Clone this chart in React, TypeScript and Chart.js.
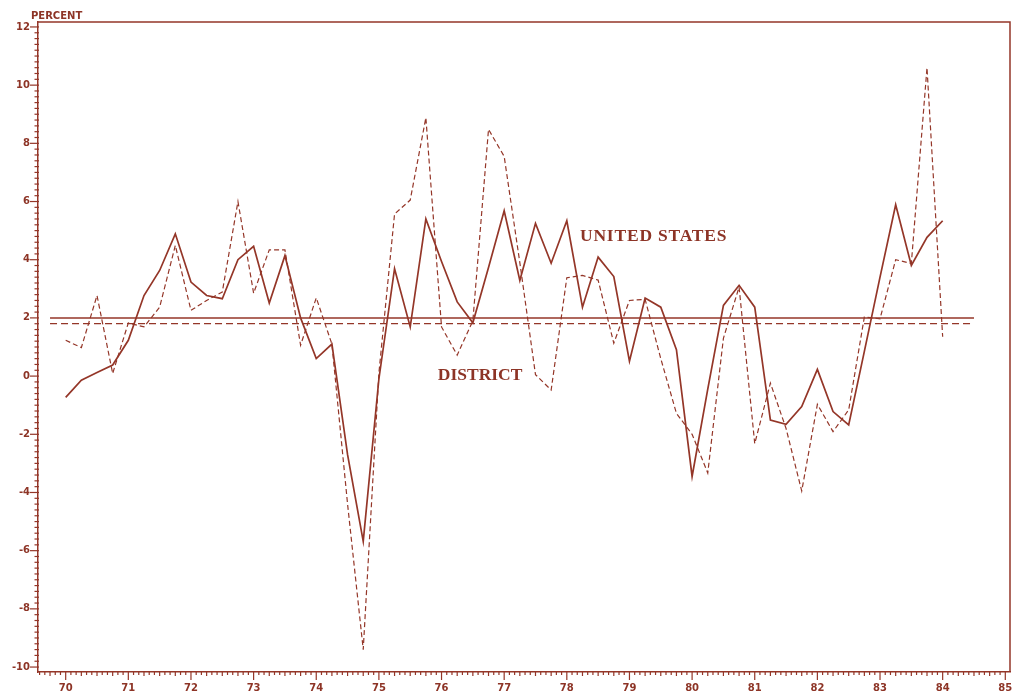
import React, { useEffect, useRef } from "react";
import { Chart, registerables } from "chart.js";

Chart.register(...registerables);

// Quarterly observations, 1970 Q1 – 1984 Q1
const quarters = [
  "1970Q1", "1970Q2", "1970Q3", "1970Q4",
  "1971Q1", "1971Q2", "1971Q3", "1971Q4",
  "1972Q1", "1972Q2", "1972Q3", "1972Q4",
  "1973Q1", "1973Q2", "1973Q3", "1973Q4",
  "1974Q1", "1974Q2", "1974Q3", "1974Q4",
  "1975Q1", "1975Q2", "1975Q3", "1975Q4",
  "1976Q1", "1976Q2", "1976Q3", "1976Q4",
  "1977Q1", "1977Q2", "1977Q3", "1977Q4",
  "1978Q1", "1978Q2", "1978Q3", "1978Q4",
  "1979Q1", "1979Q2", "1979Q3", "1979Q4",
  "1980Q1", "1980Q2", "1980Q3", "1980Q4",
  "1981Q1", "1981Q2", "1981Q3", "1981Q4",
  "1982Q1", "1982Q2", "1982Q3", "1982Q4",
  "1983Q1", "1983Q2", "1983Q3", "1983Q4",
  "1984Q1",
];

// UNITED STATES (solid line), percent
const unitedStates = [
  -0.73, -0.14, 0.12, 0.38,
  1.23, 2.77, 3.63, 4.89,
  3.23, 2.77, 2.66, 4.0,
  4.46, 2.51, 4.14, 2.0,
  0.6, 1.1, -2.7, -5.68,
  -0.1, 3.69, 1.69, 5.4,
  3.94, 2.55, 1.83, 3.73,
  5.68, 3.29, 5.25, 3.88,
  5.34, 2.37, 4.09, 3.42,
  0.51, 2.68, 2.37, 0.91,
  -3.45, -0.45, 2.43, 3.12,
  2.37, -1.51, -1.66, -1.05,
  0.23, -1.22, -1.68, 0.85,
  3.4, 5.89, 3.8, 4.77,
  5.34,
];

// DISTRICT (dashed line), percent
const district = [
  1.23, 0.98, 2.77, 0.09,
  1.83, 1.69, 2.37, 4.49,
  2.26, 2.6, 2.89, 6.0,
  2.85, 4.34, 4.34, 1.06,
  2.69, 1.1, -4.4, -9.4,
  0.1, 5.57, 6.05, 8.88,
  1.69, 0.72, 1.9, 8.48,
  7.55, 3.9, 0.05, -0.48,
  3.38, 3.46, 3.3, 1.13,
  2.6, 2.64, 0.6, -1.28,
  -2.0, -3.33, 1.3, 3.06,
  -2.32, -0.24, -1.8, -3.95,
  -0.97, -1.91, -1.16, 2.03,
  1.97, 4.0, 3.87, 10.6,
  1.35,
];

// Period averages drawn as horizontal reference lines
const unitedStatesAverage = 2.0;
const districtAverage = 1.8;
const averageSpan = [69.75, 84.5];

const xTickYears = [70, 71, 72, 73, 74, 75, 76, 77, 78, 79, 80, 81, 82, 83, 84, 85];
const yTickValues = [-10, -8, -6, -4, -2, 0, 2, 4, 6, 8, 10, 12];

const seriesLabels = { us: "UNITED STATES", district: "DISTRICT" };
const yAxisTitle = "PERCENT";

const INK = "#943628";
const TEXT_INK = "#8d3426";

function quarterToX(q: string): number {
  const year = parseInt(q.slice(0, 4), 10) - 1900;
  const qn = parseInt(q.slice(5), 10);
  return year + (qn - 1) / 4;
}

const framePlugin = {
  id: "frameAndTicks",
  beforeDatasetsDraw(chart: any) {
    const { ctx, chartArea, scales } = chart;
    const xs = scales.x;
    const ys = scales.y;
    ctx.save();
    ctx.strokeStyle = INK;
    // top and right frame
    ctx.lineWidth = 1.5;
    ctx.beginPath();
    ctx.moveTo(chartArea.left, chartArea.top);
    ctx.lineTo(chartArea.right, chartArea.top);
    ctx.lineTo(chartArea.right, chartArea.bottom);
    ctx.stroke();
    // y minor/major ticks every 0.2
    ctx.lineWidth = 1.2;
    for (let k = -50; k <= 60; k++) {
      const v = k / 5;
      const py = ys.getPixelForValue(v);
      const len = k % 10 === 0 ? 8 : 3.5;
      ctx.beginPath();
      ctx.moveTo(chartArea.left - len, py);
      ctx.lineTo(chartArea.left + 1, py);
      ctx.stroke();
    }
    // x ticks monthly
    const mStart = Math.ceil(xs.min * 12);
    const mEnd = Math.floor(xs.max * 12);
    for (let m = mStart; m <= mEnd; m++) {
      const px = xs.getPixelForValue(m / 12);
      const len = m % 12 === 0 ? 8 : m % 3 === 0 ? 4 : 3;
      ctx.beginPath();
      ctx.moveTo(px, chartArea.bottom - 1);
      ctx.lineTo(px, chartArea.bottom + len);
      ctx.stroke();
    }
    // axis title
    ctx.fillStyle = TEXT_INK;
    ctx.font = "bold 10px 'DejaVu Sans'";
    ctx.textAlign = "left";
    ctx.textBaseline = "alphabetic";
    ctx.fillText(yAxisTitle, chartArea.left - 7, chartArea.top - 3);
    ctx.restore();
  },
  afterDatasetsDraw(chart: any) {
    const { ctx, scales } = chart;
    const xs = scales.x;
    const ys = scales.y;
    ctx.save();
    ctx.fillStyle = TEXT_INK;
    ctx.font = "bold 17.5px 'Liberation Serif'";
    ctx.textAlign = "left";
    ctx.textBaseline = "middle";
    (ctx as any).letterSpacing = "0.8px";
    ctx.fillText(seriesLabels.us, xs.getPixelForValue(78.21), ys.getPixelForValue(4.79));
    (ctx as any).letterSpacing = "0px";
    ctx.fillText(seriesLabels.district, xs.getPixelForValue(75.94), ys.getPixelForValue(0.03));
    ctx.restore();
  },
};

export default function App() {
  const canvasRef = useRef<HTMLCanvasElement | null>(null);

  useEffect(() => {
    const canvas = canvasRef.current;
    if (!canvas) return;
    const usPoints = quarters.map((q, i) => ({ x: quarterToX(q), y: unitedStates[i] }));
    const distPoints = quarters.map((q, i) => ({ x: quarterToX(q), y: district[i] }));

    const chart = new Chart(canvas, {
      type: "line",
      data: {
        datasets: [
          {
            label: seriesLabels.us,
            data: usPoints,
            borderColor: INK,
            borderWidth: 1.7,
            pointRadius: 0,
            tension: 0,
          },
          {
            label: seriesLabels.district,
            data: distPoints,
            borderColor: INK,
            borderWidth: 1.2,
            borderDash: [5, 3],
            pointRadius: 0,
            tension: 0,
          },
          {
            label: "US average",
            data: averageSpan.map((x) => ({ x, y: unitedStatesAverage })),
            borderColor: INK,
            borderWidth: 1.5,
            pointRadius: 0,
          },
          {
            label: "District average",
            data: averageSpan.map((x) => ({ x, y: districtAverage })),
            borderColor: INK,
            borderWidth: 1.3,
            borderDash: [7, 4],
            pointRadius: 0,
          },
        ],
      },
      options: {
        animation: false,
        responsive: false,
        layout: { padding: { top: 22, right: 2, left: 0, bottom: 0 } },
        plugins: { legend: { display: false }, tooltip: { enabled: false } },
        scales: {
          x: {
            type: "linear",
            min: 69.558,
            max: 85.075,
            afterBuildTicks: (scale: any) => {
              scale.ticks = xTickYears.map((v) => ({ value: v }));
            },
            afterFit: (scale: any) => {
              scale.height = 22;
              scale.paddingLeft = 0;
              scale.paddingRight = 0;
            },
            ticks: {
              autoSkip: false,
              maxRotation: 0,
              padding: 2,
              color: TEXT_INK,
              font: { family: "'DejaVu Sans'", size: 10, weight: "bold" },
              callback: (v: any) => String(v),
            },
            grid: { display: false, tickLength: 8 },
            border: { display: true, color: INK, width: 1.5 },
          },
          y: {
            type: "linear",
            min: -10.17,
            max: 12.17,
            afterBuildTicks: (scale: any) => {
              scale.ticks = yTickValues.map((v) => ({ value: v }));
            },
            afterFit: (scale: any) => {
              scale.width = 38;
            },
            ticks: {
              padding: 0,
              color: TEXT_INK,
              font: { family: "'DejaVu Sans'", size: 10, weight: "bold" },
              callback: (v: any) => String(v),
            },
            grid: { display: false, tickLength: 8 },
            border: { display: true, color: INK, width: 1.5 },
          },
        },
      },
      plugins: [framePlugin],
    } as any);

    return () => chart.destroy();
  }, []);

  return (
    <div style={{ position: "fixed", left: 0, top: 0, width: 1012, height: 694, background: "#ffffff" }}>
      <canvas ref={canvasRef} width={1012} height={694} style={{ display: "block" }} />
    </div>
  );
}
